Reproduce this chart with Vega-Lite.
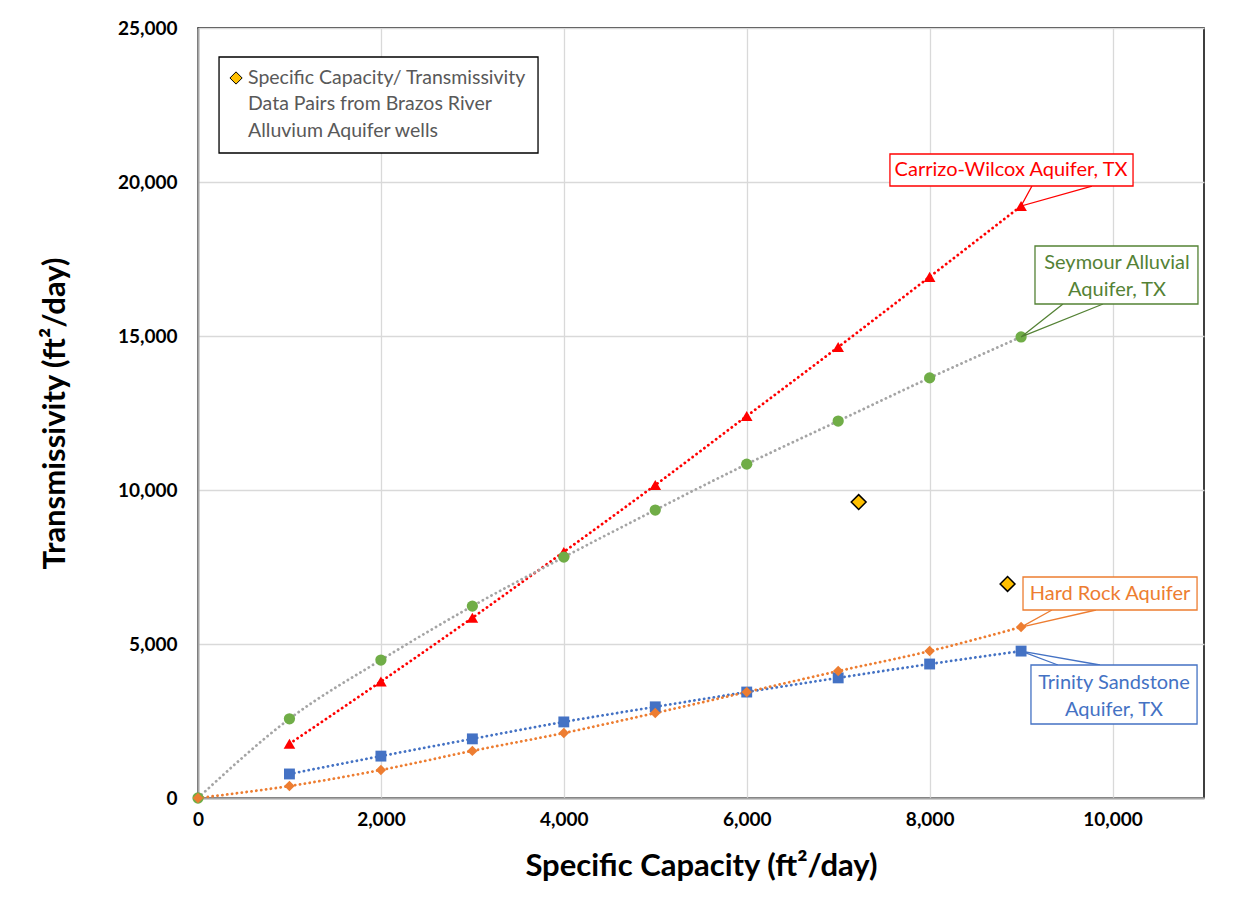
{
  "$schema": "https://vega.github.io/schema/vega-lite/v6.json",
  "width": 1006,
  "height": 770,
  "autosize": {"type": "none"},
  "padding": {"left": 198, "top": 28, "right": 46, "bottom": 107},
  "background": "white",
  "config": {
    "font": "Lato",
    "view": {"stroke": "black", "strokeWidth": 1.5},
    "axis": {"grid": true, "gridColor": "#d9d9d9", "gridWidth": 1.3, "ticks": false, "labelFlush": false, "domainColor": "#a6a6a6", "domainWidth": 2, "labelFont": "Lato", "labelFontWeight": "bold", "labelFontSize": 19, "labelColor": "black", "titleFont": "Lato", "titleFontWeight": "bold", "titleFontSize": 31, "titleColor": "black"}
  },
  "datasets": {
    "curves": [
      {"series": "Carrizo-Wilcox", "sc": 1000, "t": 1760},
      {"series": "Carrizo-Wilcox", "sc": 2000, "t": 3780},
      {"series": "Carrizo-Wilcox", "sc": 3000, "t": 5850},
      {"series": "Carrizo-Wilcox", "sc": 4000, "t": 7990},
      {"series": "Carrizo-Wilcox", "sc": 5000, "t": 10160},
      {"series": "Carrizo-Wilcox", "sc": 6000, "t": 12400},
      {"series": "Carrizo-Wilcox", "sc": 7000, "t": 14640},
      {"series": "Carrizo-Wilcox", "sc": 8000, "t": 16920},
      {"series": "Carrizo-Wilcox", "sc": 9000, "t": 19220},
      {"series": "Seymour", "sc": 0, "t": 0},
      {"series": "Seymour", "sc": 1000, "t": 2570},
      {"series": "Seymour", "sc": 2000, "t": 4480},
      {"series": "Seymour", "sc": 3000, "t": 6230},
      {"series": "Seymour", "sc": 4000, "t": 7820},
      {"series": "Seymour", "sc": 5000, "t": 9350},
      {"series": "Seymour", "sc": 6000, "t": 10840},
      {"series": "Seymour", "sc": 7000, "t": 12240},
      {"series": "Seymour", "sc": 8000, "t": 13640},
      {"series": "Seymour", "sc": 9000, "t": 14970},
      {"series": "Trinity", "sc": 1000, "t": 780},
      {"series": "Trinity", "sc": 2000, "t": 1360},
      {"series": "Trinity", "sc": 3000, "t": 1920},
      {"series": "Trinity", "sc": 4000, "t": 2470},
      {"series": "Trinity", "sc": 5000, "t": 2960},
      {"series": "Trinity", "sc": 6000, "t": 3440},
      {"series": "Trinity", "sc": 7000, "t": 3900},
      {"series": "Trinity", "sc": 8000, "t": 4350},
      {"series": "Trinity", "sc": 9000, "t": 4770},
      {"series": "Hard Rock", "sc": 0, "t": 0},
      {"series": "Hard Rock", "sc": 1000, "t": 390},
      {"series": "Hard Rock", "sc": 2000, "t": 910},
      {"series": "Hard Rock", "sc": 3000, "t": 1530},
      {"series": "Hard Rock", "sc": 4000, "t": 2110},
      {"series": "Hard Rock", "sc": 5000, "t": 2760},
      {"series": "Hard Rock", "sc": 6000, "t": 3440},
      {"series": "Hard Rock", "sc": 7000, "t": 4120},
      {"series": "Hard Rock", "sc": 8000, "t": 4770},
      {"series": "Hard Rock", "sc": 9000, "t": 5550}
    ],
    "brazos": [
      {"sc": 7224, "t": 9610},
      {"sc": 8852, "t": 6950}
    ],
    "boxes": [
      {"id": "legend", "x1": 230, "x2": 3718, "y1": 20942, "y2": 24058, "color": "black"},
      {"id": "carrizo", "x1": 7566, "x2": 10224, "y1": 19870, "y2": 20909, "color": "#ff0000"},
      {"id": "seymour", "x1": 9152, "x2": 10934, "y1": 16039, "y2": 17922, "color": "#548235"},
      {"id": "hardrock", "x1": 9021, "x2": 10924, "y1": 6104, "y2": 7175, "color": "#ed7d31"},
      {"id": "trinity", "x1": 9108, "x2": 10924, "y1": 2403, "y2": 4318, "color": "#4472c4"}
    ],
    "leaders": [
      {"id": "carrizo", "o": 1, "x": 9119, "y": 19870, "color": "#ff0000"},
      {"id": "carrizo", "o": 2, "x": 9000, "y": 19220, "color": "#ff0000"},
      {"id": "carrizo", "o": 3, "x": 9775, "y": 19870, "color": "#ff0000"},
      {"id": "seymour", "o": 1, "x": 9458, "y": 16039, "color": "#548235"},
      {"id": "seymour", "o": 2, "x": 9000, "y": 14970, "color": "#548235"},
      {"id": "seymour", "o": 3, "x": 9896, "y": 16039, "color": "#548235"},
      {"id": "hardrock", "o": 1, "x": 9338, "y": 6104, "color": "#ed7d31"},
      {"id": "hardrock", "o": 2, "x": 9000, "y": 5550, "color": "#ed7d31"},
      {"id": "hardrock", "o": 3, "x": 9819, "y": 6104, "color": "#ed7d31"},
      {"id": "trinity", "o": 1, "x": 9403, "y": 4318, "color": "#4472c4"},
      {"id": "trinity", "o": 2, "x": 9000, "y": 4770, "color": "#4472c4"},
      {"id": "trinity", "o": 3, "x": 9863, "y": 4318, "color": "#4472c4"}
    ],
    "labels": [
      {"text": "Carrizo-Wilcox Aquifer, TX", "x": 8890, "y": 20390, "color": "#ff0000"},
      {"text": "Seymour Alluvial\nAquifer, TX", "x": 10049, "y": 17370, "color": "#548235"},
      {"text": "Hard Rock Aquifer", "x": 9972, "y": 6623, "color": "#ed7d31"},
      {"text": "Trinity Sandstone\nAquifer, TX", "x": 10016, "y": 3734, "color": "#4472c4"}
    ],
    "legendtext": [
      {"text": "Specific Capacity/ Transmissivity\nData Pairs from Brazos River\nAlluvium Aquifer wells", "x": 547, "y": 23377}
    ],
    "legendmark": [
      {"x": 416, "y": 23377}
    ]
  },
  "layer": [
    {
      "data": {"name": "curves"},
      "mark": {"type": "line", "interpolate": "monotone", "strokeWidth": 2.8, "strokeDash": [0.1, 4.8], "strokeCap": "round"},
      "encoding": {
        "x": {"field": "sc", "type": "quantitative", "scale": {"domain": [0, 11000], "nice": false}, "axis": {"values": [0, 2000, 4000, 6000, 8000, 10000], "format": ",d", "labelPadding": 12, "title": "Specific Capacity (ft²/day)", "titleY": 68, "titleBaseline": "middle"}},
        "y": {"field": "t", "type": "quantitative", "scale": {"domain": [0, 25000], "nice": false}, "axis": {"values": [0, 5000, 10000, 15000, 20000, 25000], "format": ",d", "labelPadding": 21, "title": "Transmissivity (ft²/day)", "titleX": -143, "titleY": 385, "titleAngle": -90, "titleAlign": "center", "titleBaseline": "middle"}},
        "detail": {"field": "series"},
        "color": {"field": "series", "type": "nominal", "scale": {"domain": ["Carrizo-Wilcox", "Seymour", "Trinity", "Hard Rock"], "range": ["#ff0000", "#a5a5a5", "#4472c4", "#ed7d31"]}, "legend": null}
      }
    },
    {
      "data": {"name": "curves"},
      "mark": {"type": "point", "filled": true, "opacity": 1},
      "encoding": {
        "x": {"field": "sc", "type": "quantitative"},
        "y": {"field": "t", "type": "quantitative"},
        "shape": {"field": "series", "type": "nominal", "scale": {"domain": ["Carrizo-Wilcox", "Seymour", "Trinity", "Hard Rock"], "range": ["triangle-up", "circle", "square", "diamond"]}, "legend": null},
        "size": {"field": "series", "type": "nominal", "scale": {"domain": ["Carrizo-Wilcox", "Seymour", "Trinity", "Hard Rock"], "range": [135, 110, 130, 85]}, "legend": null},
        "fill": {"field": "series", "type": "nominal", "scale": {"domain": ["Carrizo-Wilcox", "Seymour", "Trinity", "Hard Rock"], "range": ["#ff0000", "#70ad47", "#4472c4", "#ed7d31"]}, "legend": null}
      }
    },
    {
      "data": {"name": "brazos"},
      "mark": {"type": "point", "shape": "diamond", "filled": true, "fill": "#ffc000", "stroke": "black", "strokeWidth": 1.5, "size": 220, "opacity": 1},
      "encoding": {
        "x": {"field": "sc", "type": "quantitative"},
        "y": {"field": "t", "type": "quantitative"}
      }
    },
    {
      "data": {"name": "leaders"},
      "mark": {"type": "line", "strokeWidth": 1.3},
      "encoding": {
        "x": {"field": "x", "type": "quantitative"},
        "y": {"field": "y", "type": "quantitative"},
        "detail": {"field": "id"},
        "order": {"field": "o"},
        "color": {"field": "color", "type": "nominal", "scale": null}
      }
    },
    {
      "data": {"name": "boxes"},
      "mark": {"type": "rect", "fill": "white", "strokeWidth": 1.3},
      "encoding": {
        "x": {"field": "x1", "type": "quantitative"},
        "x2": {"field": "x2"},
        "y": {"field": "y1", "type": "quantitative"},
        "y2": {"field": "y2"},
        "stroke": {"field": "color", "type": "nominal", "scale": null}
      }
    },
    {
      "data": {"name": "labels"},
      "mark": {"type": "text", "fontSize": 20, "lineHeight": 27, "lineBreak": "\n", "align": "center", "baseline": "middle", "font": "Lato"},
      "encoding": {
        "x": {"field": "x", "type": "quantitative"},
        "y": {"field": "y", "type": "quantitative"},
        "text": {"field": "text"},
        "color": {"field": "color", "type": "nominal", "scale": null}
      }
    },
    {
      "data": {"name": "legendtext"},
      "mark": {"type": "text", "fontSize": 19.5, "lineHeight": 26.5, "lineBreak": "\n", "align": "left", "baseline": "middle", "font": "Lato", "color": "#595959"},
      "encoding": {
        "x": {"field": "x", "type": "quantitative"},
        "y": {"field": "y", "type": "quantitative"},
        "text": {"field": "text"}
      }
    },
    {
      "data": {"name": "legendmark"},
      "mark": {"type": "point", "shape": "diamond", "filled": true, "fill": "#ffc000", "stroke": "black", "strokeWidth": 1, "size": 150, "opacity": 1},
      "encoding": {
        "x": {"field": "x", "type": "quantitative"},
        "y": {"field": "y", "type": "quantitative"}
      }
    }
  ]
}
